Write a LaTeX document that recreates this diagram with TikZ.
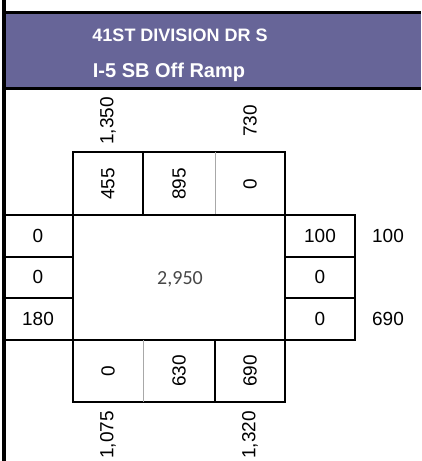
\documentclass[tikz,border=0pt]{standalone}
\usepackage{fontspec}
\setmainfont{Liberation Sans}
\newfontfamily\centerfont{Carlito}
\definecolor{bandpurple}{HTML}{676598}
\definecolor{gridgray}{HTML}{A8A8A8}
\begin{document}
\begin{tikzpicture}[x=1pt,y=-1pt,grid/.style={line width=2.3pt},thingrid/.style={line width=1pt,gridgray},count/.style={font=\fontsize{19}{19}\selectfont,inner sep=0pt},vcount/.style={count,rotate=90},title/.style={font=\fontsize{18}{18}\selectfont\bfseries,text=white,inner sep=0pt}]
  \useasboundingbox (0,0) rectangle (421,461);
  % header band
  \fill[bandpurple] (6,14) rectangle (421,87.5);
  \draw[line width=3pt] (4,12.5) -- (421,12.5);
  \draw[line width=2.7pt] (4,88.7) -- (421,88.7);
  \draw[line width=4.5pt] (4,0) -- (4,461);
  \node[title] (street) at (180,35) {41ST DIVISION DR S};
  \node[title,font=\fontsize{20}{20}\selectfont\bfseries] (ramp) at (169,72) {I-5 SB Off Ramp};
  % approach totals
  \node[vcount] (nin) at (108,121) {1,350};
  \node[vcount] (nout) at (250,121) {730};
  \node[vcount] (sout) at (108,435) {1,075};
  \node[vcount] (sin) at (250,435) {1,320};
  \node[count] (ein) at (388,236) {100};
  \node[count] (eout) at (388,319) {690};
  % north approach
  \draw[grid] (73,215) -- (73,152) -- (285,152) -- (285,215);
  \draw[grid] (143,152) -- (143,215);
  \draw[thingrid] (215,152) -- (215,215);
  \node[vcount] (nleft) at (108,184) {455};
  \node[vcount] (nthru) at (179,184) {895};
  \node[vcount] (nright) at (250,184) {0};
  % centre block
  \draw[grid] (4,215) -- (355,215) -- (355,340) -- (4,340);
  \draw[grid] (73,215) -- (73,340);
  \draw[grid] (285,215) -- (285,340);
  \draw[grid] (4,257) -- (73,257);
  \draw[grid] (4,298) -- (73,298);
  \draw[grid] (285,257) -- (355,257);
  \draw[grid] (285,298) -- (355,298);
  \node[count] (wright) at (38,236) {0};
  \node[count] (wthru) at (38,277) {0};
  \node[count] (wleft) at (38,319) {180};
  \node[count] (eleft) at (320,236) {100};
  \node[count] (ethru) at (320,277) {0};
  \node[count] (eright) at (320,319) {0};
  \node[font=\centerfont\fontsize{20}{20}\selectfont,text=black!72,inner sep=0pt] (total) at (180,279) {2,950};
  % south approach
  \draw[grid] (73,340) -- (73,402) -- (285,402) -- (285,340);
  \draw[thingrid] (143,340) -- (143,402);
  \draw[grid] (215,340) -- (215,402);
  \node[vcount] (sright) at (108,371) {0};
  \node[vcount] (sthru) at (179,371) {630};
  \node[vcount] (sleft) at (250,371) {690};
\end{tikzpicture}
\end{document}
